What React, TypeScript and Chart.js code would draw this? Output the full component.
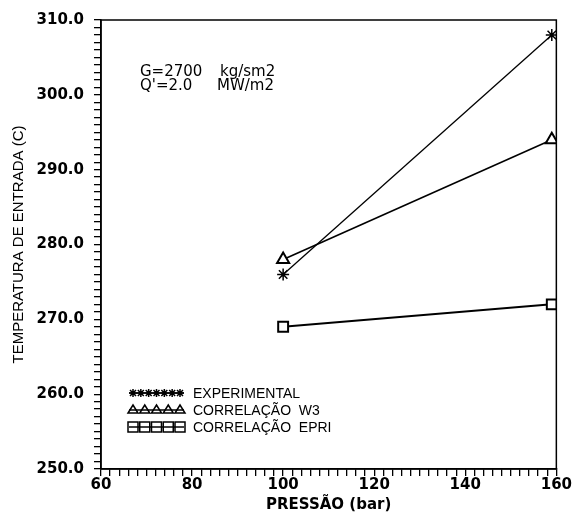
import React, { useEffect, useRef } from "react";
import { Chart, registerables } from "chart.js";

Chart.register(...registerables);

const pressure = [100, 159];
const experimental = [276, 308];
const correlW3 = [278, 294];
const correlEPRI = [269, 272];

const seriesLabels = ["EXPERIMENTAL", "CORRELAÇÃO  W3", "CORRELAÇÃO  EPRI"];
const xTitle = "PRESSÃO (bar)";
const yTitle = "TEMPERATURA DE ENTRADA (C)";
const noteLines = [["G=2700", "kg/sm2"], ["Q'=2.0", "MW/m2"]];

const X_MIN = 60, X_MAX = 160, Y_MIN = 250, Y_MAX = 310;

const tickFont = { family: "DejaVu Sans", weight: "bold" as const, size: 15 };

function drawMarker(ctx: CanvasRenderingContext2D, style: string, x: number, y: number, r: number) {
  ctx.beginPath();
  if (style === "star") {
    ctx.moveTo(x - r, y); ctx.lineTo(x + r, y);
    ctx.moveTo(x, y - r); ctx.lineTo(x, y + r);
    const d = r * 0.75;
    ctx.moveTo(x - d, y - d); ctx.lineTo(x + d, y + d);
    ctx.moveTo(x - d, y + d); ctx.lineTo(x + d, y - d);
    ctx.stroke();
  } else if (style === "triangle") {
    ctx.moveTo(x, y - r);
    ctx.lineTo(x + r, y + r * 0.6);
    ctx.lineTo(x - r, y + r * 0.6);
    ctx.closePath();
    ctx.stroke();
  } else {
    ctx.rect(x - r, y - r, 2 * r, 2 * r);
    ctx.stroke();
  }
}

const extrasPlugin = {
  id: "extras",
  afterDraw(chart: any) {
    const ctx: CanvasRenderingContext2D = chart.ctx;
    const a = chart.chartArea;
    ctx.save();
    ctx.strokeStyle = "#000";
    ctx.lineWidth = 1.5;
    ctx.strokeRect(a.left, a.top, a.right - a.left, a.bottom - a.top);

    // annotation
    ctx.fillStyle = "#000";
    ctx.font = "15px 'DejaVu Sans'";
    ctx.textBaseline = "middle";
    ctx.textAlign = "left";
    const noteY = [72, 86];
    const noteX2 = [220, 217];
    noteLines.forEach((ln, i) => {
      ctx.fillText(ln[0], 140, noteY[i]);
      ctx.fillText(ln[1], noteX2[i], noteY[i]);
    });

    // legend
    const styles = ["star", "triangle", "rect"];
    const counts = [7, 5, 5];
    const rows = [393, 410, 427];
    const x0 = 129, x1 = 184;
    ctx.font = "14px 'Liberation Sans'";
    styles.forEach((st, i) => {
      const y = rows[i];
      ctx.lineWidth = 1.5;
      ctx.beginPath();
      ctx.moveTo(x0, y); ctx.lineTo(x1, y);
      ctx.stroke();
      const n = counts[i];
      for (let k = 0; k < n; k++) {
        const x = x0 + 4 + (k * (x1 - x0 - 8)) / (n - 1);
        drawMarker(ctx, st, x, y, st === "star" ? 4 : 5);
      }
      ctx.fillText(seriesLabels[i], 193, y + 1);
    });
    ctx.restore();
  },
};

export default function App() {
  const ref = useRef<HTMLCanvasElement>(null);
  useEffect(() => {
    document.body.style.margin = "0";
    const mk = (vals: number[]) => pressure.map((p, i) => ({ x: p, y: vals[i] }));
    const chart = new Chart(ref.current!, {
      type: "scatter",
      data: {
        datasets: [
          { label: seriesLabels[0], data: mk(experimental), showLine: true, borderColor: "#000", backgroundColor: "rgba(0,0,0,0)", borderWidth: 1.3, pointStyle: "star", pointRadius: 6, pointBorderWidth: 1.5, pointBorderColor: "#000" },
          { label: seriesLabels[1], data: mk(correlW3), showLine: true, borderColor: "#000", backgroundColor: "#fff", borderWidth: 1.6, pointStyle: "triangle", pointRadius: 7, pointBorderWidth: 2, pointBorderColor: "#000", pointBackgroundColor: "#fff" },
          { label: seriesLabels[2], data: mk(correlEPRI), showLine: true, borderColor: "#000", backgroundColor: "#fff", borderWidth: 2, pointStyle: "rect", pointRadius: 7, pointBorderWidth: 2, pointBorderColor: "#000", pointBackgroundColor: "#fff" },
        ],
      },
      options: {
        responsive: false,
        animation: false,
        events: [],
        layout: { padding: { top: 20, right: 15, left: 0, bottom: 0 } },
        plugins: { legend: { display: false }, tooltip: { enabled: false } },
        scales: {
          x: {
            type: "linear",
            min: X_MIN,
            max: X_MAX,
            afterFit: (s: any) => { s.height = 46; },
            ticks: {
              stepSize: 2,
              autoSkip: false,
              maxRotation: 0,
              maxTicksLimit: 200,
              color: "#000",
              font: tickFont,
              padding: 0,
              callback: (v: any) => (Number(v) % 20 === 0 ? String(v) : ""),
            },
            grid: { drawOnChartArea: false, drawTicks: true, tickLength: 7, color: "#000", lineWidth: 1.3 },
            border: { color: "#000", width: 1.5 },
            title: { display: true, text: xTitle, color: "#000", font: tickFont, padding: { top: 0, bottom: 1 } },
          },
          y: {
            type: "linear",
            min: Y_MIN,
            max: Y_MAX,
            afterFit: (s: any) => { s.width = 101; },
            ticks: {
              stepSize: 1,
              autoSkip: false,
              maxTicksLimit: 200,
              color: "#000",
              font: tickFont,
              padding: 10,
              callback: (v: any) => (Number(v) % 10 === 0 ? Number(v).toFixed(1) : ""),
            },
            grid: { drawOnChartArea: false, drawTicks: true, tickLength: 7, color: "#000", lineWidth: 1.3 },
            border: { color: "#000", width: 1.5 },
            title: { display: true, text: yTitle, color: "#000", font: { family: "Liberation Sans", size: 15 }, padding: { top: 10, bottom: 0 } },
          },
        },
      },
      plugins: [extrasPlugin],
    });
    return () => chart.destroy();
  }, []);
  return (
    <div style={{ position: "fixed", left: 0, top: 0, width: 572, height: 515, background: "#fff" }}>
      <canvas ref={ref} width={572} height={515} />
    </div>
  );
}
